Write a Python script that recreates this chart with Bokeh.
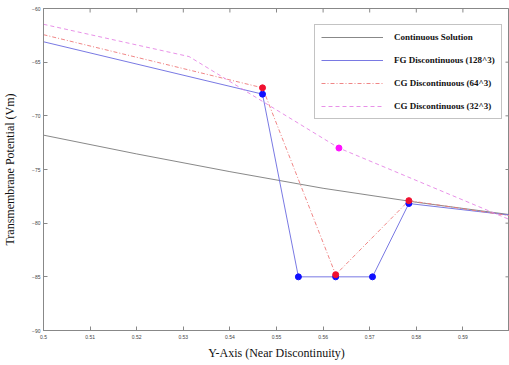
import math
from bokeh.plotting import figure
from bokeh.models import FixedTicker, Legend, LegendItem, Label
from bokeh.embed import file_html
from bokeh.resources import INLINE

# ---- data ----
cont_x = [0.50, 0.52, 0.54, 0.56, 0.58, 0.60]
cont_y = [-71.8, -73.55, -75.2, -76.75, -78.05, -79.2]

fg_x = [0.50, 0.547, 0.5547, 0.5627, 0.5706, 0.5784, 0.60]
fg_y = [-63.1, -67.98, -85.0, -85.0, -85.0, -78.17, -79.25]
fg_mx = [0.547, 0.5547, 0.5627, 0.5706, 0.5784]
fg_my = [-67.98, -85.0, -85.0, -85.0, -78.17]

cg64_x = [0.50, 0.547, 0.5627, 0.5784, 0.60]
cg64_y = [-62.44, -67.39, -84.8, -77.9, -79.3]
cg64_mx = [0.547, 0.5627, 0.5784]
cg64_my = [-67.39, -84.8, -77.9]

cg32_x = [0.50, 0.53125, 0.5634, 0.60]
cg32_y = [-61.47, -64.48, -73.0, -79.66]
cg32_mx = [0.5634]
cg32_my = [-73.0]

x_ticks = [0.50, 0.51, 0.52, 0.53, 0.54, 0.55, 0.56, 0.57, 0.58, 0.59, 0.60]
x_tick_labels = ["0.5", "0.51", "0.52", "0.53", "0.54", "0.55", "0.56", "0.57", "0.58", "0.59", "0.6"]
y_ticks = [-90, -85, -80, -75, -70, -65, -60]

legend_labels = ["Continuous Solution", "FG Discontinuous (128^3)",
                 "CG Discontinuous (64^3)", "CG Discontinuous (32^3)"]

X0, X1 = 0.5, 0.6
Y0, Y1 = -90, -60

p = figure(width=509, height=365, x_range=(X0, X1), y_range=(Y0, Y1),
           output_backend="svg", toolbar_location=None,
           min_border_left=42, min_border_right=0, min_border_top=8, min_border_bottom=35)
p.grid.visible = False
p.outline_line_color = "#888888"
p.background_fill_color = "white"
p.border_fill_color = "white"

axis_color = "#888888"
tick_font = "5px"
for ax in [p.xaxis[0], p.yaxis[0]]:
    ax.axis_line_color = axis_color
    ax.major_tick_line_color = axis_color
    ax.major_tick_in = 4
    ax.major_tick_out = 0
    ax.minor_tick_line_color = None
    ax.major_label_text_font_size = tick_font
    ax.major_label_text_color = "#444444"
    ax.major_label_standoff = 3
    ax.axis_label_text_font = "Liberation Serif"
    ax.axis_label_text_font_style = "normal"
    ax.axis_label_text_font_size = "12px"
    ax.axis_label_text_color = "#111111"

# the last x tick label sits on the frame edge: drawn as an annotation so it
# does not reserve extra room on the right
p.xaxis[0].ticker = FixedTicker(ticks=x_ticks[:-1])
p.xaxis[0].major_label_overrides = {t: l for t, l in zip(x_ticks[:-1], x_tick_labels[:-1])}
p.xaxis[0].major_label_standoff = 4
p.yaxis[0].ticker = FixedTicker(ticks=y_ticks)
p.xaxis[0].axis_label = "Y-Axis (Near Discontinuity)"
p.yaxis[0].axis_label = "Transmembrane Potential (Vm)"
p.xaxis[0].axis_label_standoff = 4
p.yaxis[0].axis_label_standoff = 12

p.add_layout(Label(x=x_ticks[-1], y=Y0, text=x_tick_labels[-1], y_offset=-4,
                   text_align="center", text_baseline="top",
                   text_font_size=tick_font, text_color="#444444"))

# mirrored inward ticks on top and right edges
p.ray(x=x_ticks, y=[Y1] * len(x_ticks), length=4, length_units="screen",
      angle=-math.pi / 2, line_color=axis_color, line_width=1)
p.ray(x=[X1] * len(y_ticks), y=y_ticks, length=4, length_units="screen",
      angle=math.pi, line_color=axis_color, line_width=1)

r_cont = p.line(cont_x, cont_y, line_color="#7a7a7a", line_width=0.9)
r_fg = p.line(fg_x, fg_y, line_color="#6a6ae0", line_width=0.9)
r_64 = p.line(cg64_x, cg64_y, line_color="#ee7878", line_width=0.9, line_dash="4 2 1 2")
r_32 = p.line(cg32_x, cg32_y, line_color="#e585e5", line_width=0.9, line_dash="4 3")

p.scatter(fg_mx, fg_my, size=6, fill_color="#1010ff", line_color="#1010ff")
p.scatter(cg64_mx, cg64_my, size=6, fill_color="#f01030", line_color="#f01030")
p.scatter(cg32_mx, cg32_my, size=6, fill_color="#ff10ff", line_color="#ff10ff")

legend = Legend(items=[LegendItem(label=l, renderers=[r]) for l, r in
                       zip(legend_labels, [r_cont, r_fg, r_64, r_32])],
                location=(271, 211))
legend.label_text_font = "Liberation Serif"
legend.label_text_font_style = "bold"
legend.label_text_font_size = "9px"
legend.label_text_color = "#111111"
legend.glyph_width = 62
legend.glyph_height = 12
legend.label_height = 12
legend.label_standoff = 11
legend.spacing = 11
legend.padding = 6
legend.margin = 0
legend.border_line_color = "#888888"
legend.border_line_width = 1
legend.background_fill_alpha = 1
p.add_layout(legend, "center")

open("out.html", "w").write(file_html(p, INLINE))
